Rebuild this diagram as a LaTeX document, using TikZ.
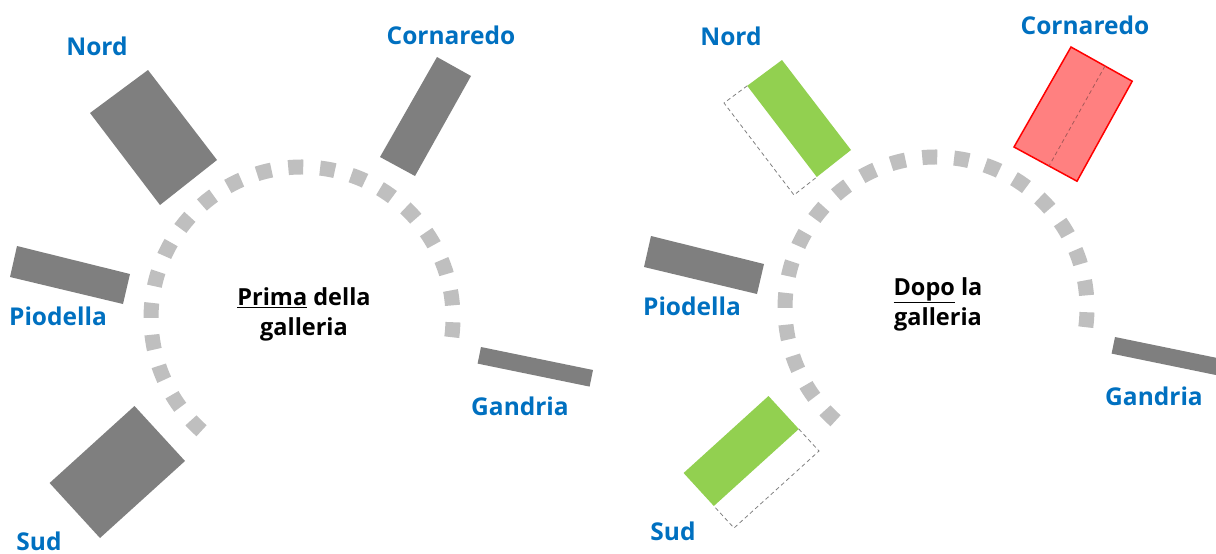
\documentclass[tikz,border=0pt]{standalone}
\usepackage{fontspec}
\setmainfont{Open Sans}
\usepackage{xcolor}
\usetikzlibrary{calc, positioning}

\definecolor{edificio}{HTML}{7F7F7F}
\definecolor{galleria}{HTML}{BFBFBF}
\definecolor{blu}{HTML}{0070C0}
\definecolor{verde}{HTML}{92D050}
\definecolor{rosa}{HTML}{FF8080}

\tikzset{
	luogo/.style={font=\bfseries\fontsize{24.5}{28}\selectfont, text=blu, inner sep=0pt},
	titolo/.style={font=\bfseries\fontsize{23.5}{30}\selectfont, align=center, inner sep=0pt},
	tunnel/.style={draw=galleria, line width=15pt, dash pattern=on 15pt off 16.9pt},
	vecchio/.style={draw=gray, line width=0.8pt, dash pattern=on 4pt off 3pt},
}

\begin{document}
\begin{tikzpicture}[x=1pt, y=-1pt]
		\useasboundingbox (0,0) rectangle (1216,554);
		\clip (0,0) rectangle (1216,554);
		% parti comuni: prima (L) e dopo (R)
		\foreach \p/\dx/\dy in {L/0/0, R/634/-10}{
			\begin{scope}[shift={(\dx,\dy)}]
				\draw[tunnel] (302,318) ++(7.3:151) arc[start angle=7.3, end angle=-228.3, radius=151];
				\fill[edificio] (17,246) -- (130,274) -- (123,304) -- (10,277) -- cycle;
				\fill[edificio] (481,347) -- (593,370) -- (589.6,386.6) -- (477.6,363.6) -- cycle;
				\coordinate (n1\p) at (90,113);
				\coordinate (n2\p) at (148,70);
				\coordinate (n3\p) at (217,160);
				\coordinate (n4\p) at (160,205);
				\coordinate (c1\p) at (437,57);
				\coordinate (c2\p) at (471,76);
				\coordinate (c3\p) at (415,176);
				\coordinate (c4\p) at (380,157);
				\coordinate (s1\p) at (134.5,406);
				\coordinate (s2\p) at (185,461);
				\coordinate (s3\p) at (100,538);
				\coordinate (s4\p) at (49.6,483);
				\node[luogo] (nord\p) at (97,46) {Nord};
				\node[luogo] (cornaredo\p) at (451,35) {Cornaredo};
				\node[luogo] (piodella\p) at (58,316) {Piodella};
				\node[luogo] (gandria\p) at (520,406) {Gandria};
				\node[luogo] (sud\p) at (39,541) {Sud};
			\end{scope}
		}
		% prima della galleria
		\fill[edificio] (n1L) -- (n2L) -- (n3L) -- (n4L) -- cycle;
		\fill[edificio] (c1L) -- (c2L) -- (c3L) -- (c4L) -- cycle;
		\fill[edificio] (s1L) -- (s2L) -- (s3L) -- (s4L) -- cycle;
		\node[titolo] (prima) at (304,314) {\underline{Prima} della\\galleria};
		% dopo la galleria
		\fill[verde] (n2R) -- (n3R) -- ($(n3R)!0.6!(n4R)$) -- ($(n2R)!0.6!(n1R)$) -- cycle;
		\draw[vecchio] ($(n2R)!0.6!(n1R)$) -- (n1R) -- (n4R) -- ($(n3R)!0.6!(n4R)$);
		\fill[verde] (s1R) -- ($(s1R)!0.6!(s2R)$) -- ($(s4R)!0.6!(s3R)$) -- (s4R) -- cycle;
		\draw[vecchio] ($(s1R)!0.6!(s2R)$) -- (s2R) -- (s3R) -- ($(s4R)!0.6!(s3R)$);
		\filldraw[fill=rosa, draw=red, line width=1.5pt] (c1R) -- ($(c1R)!1.8!(c2R)$) -- ($(c4R)!1.8!(c3R)$) -- (c4R) -- cycle;
		\draw[vecchio, draw=gray!70!red] (c2R) -- (c3R);
		\node[titolo] (dopo) at (938,304) {\underline{Dopo} la\\galleria};
	\end{tikzpicture}
\end{document}
